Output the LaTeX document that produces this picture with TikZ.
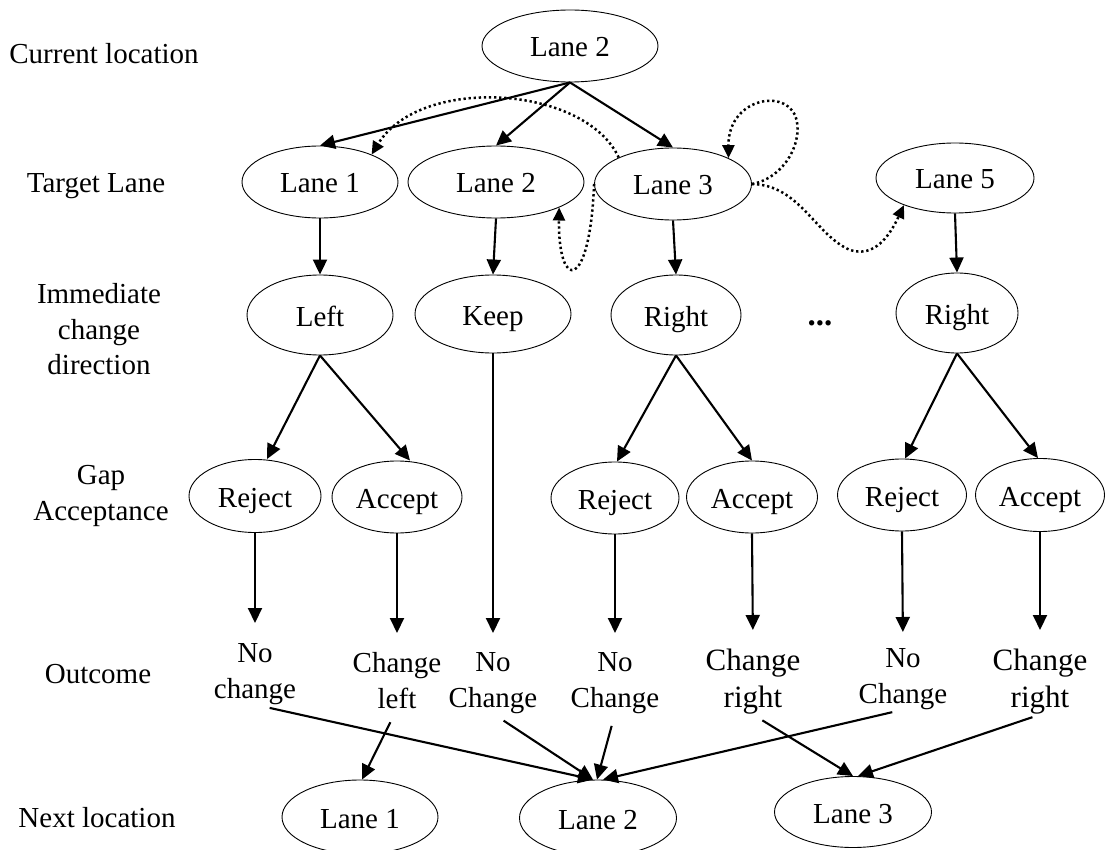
\documentclass[tikz,border=0pt]{standalone}
\usepackage{fontspec}
\setmainfont{Liberation Serif}
\usetikzlibrary{shapes.geometric,arrows.meta}
\newcommand{\myfnt}{\fontsize{29}{35.5}\selectfont}
\newcommand{\mybig}{\fontsize{31}{37}\selectfont}
\tikzset{
  ell/.style={draw, ellipse, line width=0.9pt, inner sep=0pt, font=\myfnt, text height=22pt, text depth=0pt},
  sz/.style 2 args={minimum width=#1pt, minimum height=#2pt},
  arr/.style={line width=2.1pt, -{Triangle[length=15pt,width=14pt]}},
  dotarr/.style={line width=2.5pt, dash pattern=on 2.3pt off 2.8pt, -{Triangle[length=13pt,width=12pt]}},
  lbl/.style={inner sep=0pt, font=\myfnt, align=center},
  lblbig/.style={inner sep=0pt, font=\mybig, align=center}
}
\begin{document}
\begin{tikzpicture}[x=1pt,y=-1pt]
\fill[white] (0,0) rectangle (1105,850);
\useasboundingbox (0,0) rectangle (1105,850);

% left labels
\node[lbl, anchor=base] (lcur) at (104,64) {Current location};
\node[lbl, anchor=base] (ltar) at (96,193) {Target Lane};
\node[lbl, anchor=north] (limm) at (99,283.5) {Immediate\\change\\direction};
\node[lbl, anchor=north] (lgap) at (101,465.5) {Gap\\Acceptance};
\node[lbl, anchor=base] (lout) at (98,683) {Outcome};
\node[lbl, anchor=base] (lnext) at (97,827) {Next location};

% current
\node[ell, sz={176}{72}] (top) at (570,46) {Lane 2};
% target lanes
\node[ell, sz={156}{72}] (t1) at (320,182) {Lane 1};
\node[ell, sz={176}{72}] (t2) at (496,182) {Lane 2};
\node[ell, sz={157}{72}] (t3) at (673,184) {Lane 3};
\node[ell, sz={158}{70}] (t5) at (955,178) {Lane 5};
% directions
\node[ell, sz={146}{80}] (d1) at (320,315) {Left};
\node[ell, sz={156}{78}] (dk) at (493,314) {Keep};
\node[ell, sz={130}{80}] (d3) at (676,315) {Right};
\node[ell, sz={122}{80}] (d5) at (957,313) {Right};
\node[lbl, anchor=base, font=\fontsize{33}{36}\selectfont\bfseries] (dots) at (820,325) {...};
% gap acceptance
\node[ell, sz={132}{73}] (g1) at (255,496) {Reject};
\node[ell, sz={130}{72}] (g2) at (397,497) {Accept};
\node[ell, sz={128}{72}] (g3) at (615,498) {Reject};
\node[ell, sz={131}{72}] (g4) at (752,497) {Accept};
\node[ell, sz={129}{72}] (g5) at (902,495) {Reject};
\node[ell, sz={129}{73}] (g6) at (1040,495) {Accept};
% outcomes
\node[lbl, anchor=north] (o1) at (255,643.5) {No\\change};
\node[lbl, anchor=north] (o2) at (397,652.5) {Change\\left};
\node[lbl, anchor=north] (o3) at (493,652.5) {No\\Change};
\node[lbl, anchor=north] (o4) at (615,652.5) {No\\Change};
\node[lblbig, anchor=north] (o5) at (753,649) {Change\\right};
\node[lbl, anchor=north] (o6) at (903,648.5) {No\\Change};
\node[lblbig, anchor=north] (o7) at (1040,649) {Change\\right};
% next location
\node[ell, sz={156}{74}] (n1) at (360,817) {Lane 1};
\node[ell, sz={157}{76}] (n2) at (598,818) {Lane 2};
\node[ell, sz={157}{71}] (n3) at (853,812) {Lane 3};

% top to targets
\draw[arr] (top.south) -- (t1.north);
\draw[arr] (top.south) -- (t2.north);
\draw[arr] (top.south) -- (t3.north);
% targets to directions
\draw[arr] (t1.south) -- (d1.north);
\draw[arr] (t2.south) -- (dk.north);
\draw[arr] (t3.south) -- (d3.north);
\draw[arr] (t5.south) -- (d5.north);
% directions to gaps
\draw[arr] (d1.south) -- ([xshift=12pt]g1.north);
\draw[arr] (d1.south) -- ([xshift=13pt]g2.north);
\draw[arr] (d3.south) -- ([xshift=2pt]g3.north);
\draw[arr] (d3.south) -- (g4.north);
\draw[arr] (d5.south) -- ([xshift=3pt]g5.north);
\draw[arr] (d5.south) -- ([xshift=-2pt]g6.north);
% gaps to outcomes
\draw[arr, shorten >=20.5pt] (g1.south) -- (o1.north);
\draw[arr, shorten >=19.5pt] (g2.south) -- (o2.north);
\draw[arr, shorten >=19.5pt] (dk.south) -- (o3.north);
\draw[arr, shorten >=19.5pt] (g3.south) -- (o4.north);
\draw[arr, shorten >=19pt] (g4.south) -- (o5.north);
\draw[arr, shorten >=16.5pt] (g5.south) -- (o6.north);
\draw[arr, shorten >=19pt] (g6.south) -- (o7.north);
% outcomes to next location
\draw[arr, shorten <=15pt] (o1.south) -- ([xshift=-5pt]n2.north);
\draw[arr, shorten <=15pt] (o2.south) -- ([xshift=2pt]n1.north);
\draw[arr, shorten <=12.7pt] (o3.south) -- ([xshift=-5pt]n2.north);
\draw[arr, shorten <=12.7pt] (o4.south) -- ([xshift=-1pt]n2.north);
\draw[arr, shorten <=11pt] (o5.south) -- (n3.north);
\draw[arr, shorten <=11pt] (o6.south) -- ([xshift=5pt]n2.north);
\draw[arr, shorten <=8pt] (o7.south) -- ([xshift=5pt]n3.north);

% dotted transitions
\draw[dotarr] (t3.154) .. controls (585,85) and (420,75) .. (t1.28);
\draw[dotarr] (t3.west) .. controls (590,292) and (558,292) .. (t2.-22);
\draw[dotarr] (t3.east) .. controls (785,178) and (805,140) .. (795,115)
  .. controls (782,88) and (728,100) .. (t3.25);
\draw[dotarr] (t3.east) .. controls (800,185) and (815,235) .. (850,250)
  .. controls (875,258) and (890,235) .. (t5.-152);
\end{tikzpicture}
\end{document}
